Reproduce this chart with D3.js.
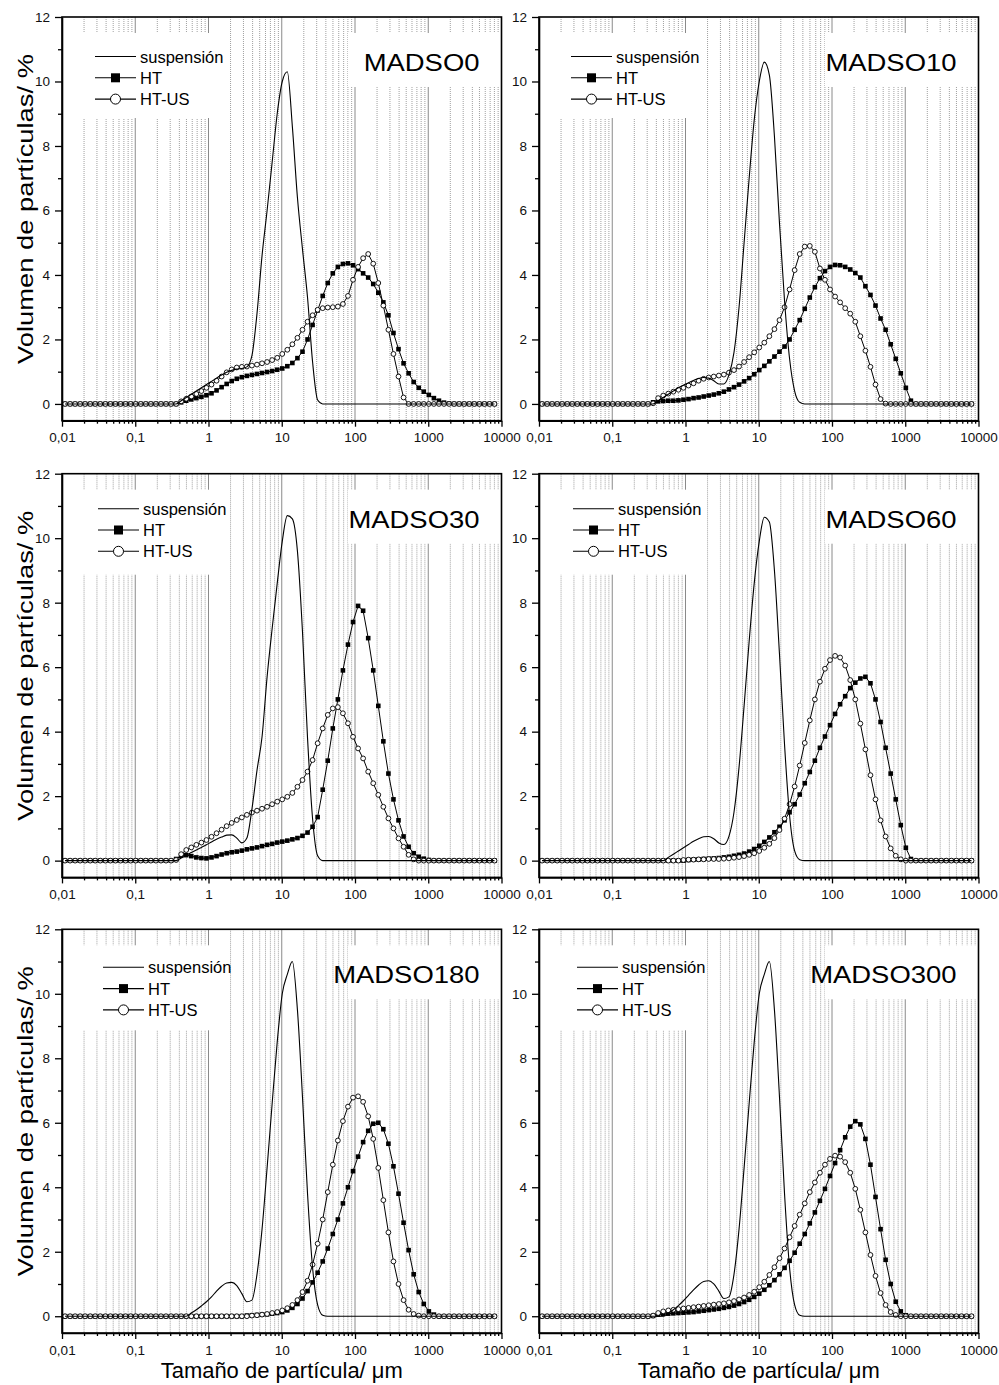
<!DOCTYPE html>
<html>
<head>
<meta charset="utf-8">
<script src="https://cdn.jsdelivr.net/npm/d3@7"></script>
<style>
  body { margin: 0; background: #fff; }
  svg { font-family: "Liberation Sans", Arial, sans-serif; }
</style>
</head>
<body>
<svg id="chart" width="999" height="1385"></svg>
<script>
// size classes of the analyser (µm), shared by every curve
var sizeClasses = [
  0.011, 0.0129, 0.0151, 0.0177, 0.0207, 0.0243, 0.0284, 0.0333, 0.0391, 0.0458,
  0.0537, 0.063, 0.0738, 0.0865, 0.1014, 0.1189, 0.1393, 0.1633, 0.1914, 0.2244,
  0.263, 0.3083, 0.3614, 0.4236, 0.4966, 0.5821, 0.6823, 0.7998, 0.9376, 1.099,
  1.288, 1.51, 1.77, 2.075, 2.432, 2.851, 3.342, 3.917, 4.592, 5.383,
  6.31, 7.396, 8.67, 10.16, 11.91, 13.96, 16.37, 19.19, 22.49, 26.36,
  30.9, 36.22, 42.46, 49.77, 58.34, 68.39, 80.17, 93.97, 110.2, 129.1,
  151.4, 177.4, 208, 243.8, 285.8, 335, 392.6, 460.3, 539.5, 632.4,
  741.3, 869, 1019, 1194, 1400, 1641, 1923, 2254, 2642, 3097,
  3631, 4256, 4989, 5848, 6855, 8035
];

var xTickValues = [0.01, 0.1, 1, 10, 100, 1000, 10000];
var xTickLabels = ["0,01", "0,1", "1", "10", "100", "1000", "10000"];
var yTickValues = [0, 2, 4, 6, 8, 10, 12];
var yMinorTicks = [1, 3, 5, 7, 9, 11];
var sampleNames = ["MADSO0", "MADSO10", "MADSO30", "MADSO60", "MADSO180", "MADSO300"];
var seriesNames = ["suspensión", "HT", "HT-US"];

// MADSO0
var susp0 = [
  0,0,0,0,0,0,0,0,0,0, 0,0,0,0,0,0,0,0,0,0,
  0,0,0,0.1,0.2,0.3,0.4,0.5,0.6,0.7,
  0.8,0.9,0.98,1.04,1.08,1.1,1.15,1.5,2.8,4.6,
  6.0,7.5,9.0,10.0,10.3,8.6,6.4,4.8,3.3,1.3,
  0.12,0,0,0,0,0,0,0,0,0, 0,0,0,0,0,0,0,0,0,0,
  0,0,0,0,0,0,0,0,0,0, 0,0,0,0,0,0
];
var ht0 = [
  0,0,0,0,0,0,0,0,0,0, 0,0,0,0,0,0,0,0,0,0,
  0,0,0,0.05,0.1,0.14,0.18,0.22,0.27,0.33,
  0.42,0.52,0.62,0.71,0.78,0.83,0.87,0.9,0.93,0.96,
  0.99,1.02,1.06,1.1,1.17,1.27,1.42,1.62,2.0,2.45,
  2.9,3.35,3.75,4.05,4.25,4.34,4.36,4.3,4.18,4.05,
  3.92,3.72,3.45,3.15,2.75,2.2,1.7,1.26,0.95,0.68,
  0.5,0.38,0.28,0.18,0.1,0.04,0.01,0,0,0,
  0,0,0,0,0,0
];
var htus0 = [
  0,0,0,0,0,0,0,0,0,0, 0,0,0,0,0,0,0,0,0,0,
  0,0,0,0.08,0.16,0.23,0.31,0.4,0.5,0.6,
  0.72,0.85,0.98,1.07,1.13,1.15,1.16,1.19,1.22,1.26,
  1.3,1.36,1.43,1.55,1.68,1.85,2.05,2.3,2.55,2.75,
  2.92,2.97,2.99,3.0,3.02,3.1,3.35,3.85,4.25,4.52,
  4.65,4.35,3.75,3.05,2.3,1.55,0.85,0.2,0,0,
  0,0,0,0,0,0,0,0,0,0, 0,0,0,0,0,0
];

// MADSO10
var susp10 = [
  0,0,0,0,0,0,0,0,0,0, 0,0,0,0,0,0,0,0,0,0,
  0,0,0,0.1,0.2,0.3,0.4,0.5,0.58,0.66,
  0.73,0.79,0.82,0.8,0.72,0.62,0.62,0.9,1.6,3.0,
  5.0,7.0,8.8,10.0,10.6,10.2,8.3,5.6,3.2,1.4,
  0.4,0.05,0,0,0,0,0,0,0,0, 0,0,0,0,0,0,0,0,0,0,
  0,0,0,0,0,0,0,0,0,0, 0,0,0,0,0,0
];
var ht10 = [
  0,0,0,0,0,0,0,0,0,0, 0,0,0,0,0,0,0,0,0,0,
  0,0,0.05,0.08,0.09,0.1,0.1,0.11,0.13,0.15,
  0.18,0.2,0.23,0.26,0.29,0.33,0.38,0.45,0.52,0.6,
  0.7,0.8,0.92,1.05,1.18,1.32,1.47,1.62,1.78,2.0,
  2.3,2.6,2.95,3.3,3.62,3.9,4.12,4.25,4.31,4.3,
  4.25,4.17,4.06,3.92,3.65,3.38,3.05,2.65,2.3,1.85,
  1.4,0.95,0.5,0.1,0,0,0,0,0,0,
  0,0,0,0,0,0
];
var htus10 = [
  0,0,0,0,0,0,0,0,0,0, 0,0,0,0,0,0,0,0,0,0,
  0,0,0.02,0.18,0.26,0.32,0.38,0.44,0.5,0.57,
  0.64,0.72,0.78,0.82,0.85,0.88,0.91,0.97,1.05,1.16,
  1.3,1.45,1.6,1.75,1.9,2.1,2.32,2.6,3.0,3.55,
  4.15,4.65,4.88,4.9,4.72,4.2,3.85,3.55,3.33,3.15,
  2.97,2.8,2.55,2.1,1.65,1.15,0.6,0.15,0.01,0,
  0,0,0,0,0,0,0,0,0,0, 0,0,0,0,0,0
];

// MADSO30
var susp30 = [
  0,0,0,0,0,0,0,0,0,0, 0,0,0,0,0,0,0,0,0,0,
  0,0,0,0.08,0.17,0.25,0.33,0.41,0.49,0.58,
  0.66,0.73,0.79,0.8,0.7,0.55,0.7,1.6,2.8,3.84,
  5.7,7.2,8.6,9.9,10.7,10.6,9.6,7.1,3.8,1.3,
  0.15,0,0,0,0,0,0,0,0,0, 0,0,0,0,0,0,0,0,0,0,
  0,0,0,0,0,0,0,0,0,0, 0,0,0,0,0,0
];
var ht30 = [
  0,0,0,0,0,0,0,0,0,0, 0,0,0,0,0,0,0,0,0,0,
  0,0,0.05,0.15,0.17,0.14,0.1,0.08,0.07,0.1,
  0.14,0.19,0.23,0.26,0.28,0.31,0.35,0.38,0.41,0.45,
  0.49,0.52,0.56,0.59,0.62,0.66,0.7,0.77,0.87,1.05,
  1.35,2.2,3.1,4.1,5.0,5.9,6.7,7.4,7.9,7.75,
  6.9,5.9,4.8,3.7,2.7,1.9,1.25,0.75,0.43,0.23,
  0.12,0.06,0.02,0,0,0,0,0,0,0,
  0,0,0,0,0,0
];
var htus30 = [
  0,0,0,0,0,0,0,0,0,0, 0,0,0,0,0,0,0,0,0,0,
  0,0,0.02,0.2,0.33,0.41,0.49,0.56,0.64,0.74,
  0.85,0.96,1.07,1.17,1.26,1.34,1.42,1.49,1.55,1.61,
  1.67,1.75,1.83,1.9,1.98,2.1,2.29,2.5,2.76,3.12,
  3.64,4.1,4.52,4.72,4.76,4.57,4.26,3.84,3.48,3.17,
  2.76,2.4,2.04,1.67,1.31,1.0,0.69,0.43,0.18,0.04,
  0,0,0,0,0,0,0,0,0,0, 0,0,0,0,0,0
];

// MADSO60
var susp60 = [
  0,0,0,0,0,0,0,0,0,0, 0,0,0,0,0,0,0,0,0,0,
  0,0,0,0,0,0.1,0.2,0.3,0.4,0.5,
  0.6,0.68,0.74,0.75,0.68,0.55,0.5,0.75,1.5,2.9,
  4.8,6.8,8.6,9.9,10.65,10.5,9.0,6.4,3.6,1.4,
  0.3,0.03,0,0,0,0,0,0,0,0, 0,0,0,0,0,0,0,0,0,0,
  0,0,0,0,0,0,0,0,0,0, 0,0,0,0,0,0
];
var ht60 = [
  0,0,0,0,0,0,0,0,0,0, 0,0,0,0,0,0,0,0,0,0,
  0,0,0,0,0,0,0,0,0,0.02,
  0.03,0.04,0.05,0.06,0.07,0.08,0.1,0.12,0.15,0.18,
  0.22,0.28,0.36,0.46,0.58,0.72,0.88,1.05,1.25,1.5,
  1.75,2.05,2.4,2.75,3.1,3.5,3.85,4.2,4.55,4.85,
  5.1,5.35,5.52,5.65,5.7,5.5,5.0,4.3,3.5,2.7,
  1.9,1.1,0.4,0.05,0,0,0,0,0,0,
  0,0,0,0,0,0
];
var htus60 = [
  0,0,0,0,0,0,0,0,0,0, 0,0,0,0,0,0,0,0,0,0,
  0,0,0,0,0,0,0,0,0.02,0.03,
  0.03,0.04,0.04,0.05,0.05,0.05,0.06,0.07,0.09,0.11,
  0.14,0.18,0.23,0.3,0.4,0.52,0.7,0.95,1.3,1.75,
  2.3,2.95,3.65,4.35,5.0,5.55,5.95,6.22,6.35,6.3,
  6.05,5.6,5.0,4.25,3.45,2.65,1.9,1.25,0.75,0.38,
  0.15,0.04,0,0,0,0,0,0,0,0,
  0,0,0,0,0,0
];

// MADSO180
var susp180 = [
  0,0,0,0,0,0,0,0,0,0, 0,0,0,0,0,0,0,0,0,0,
  0,0,0,0,0,0.1,0.2,0.32,0.45,0.6,
  0.78,0.93,1.03,1.05,0.95,0.7,0.45,0.5,1.3,2.7,
  4.6,6.6,8.5,10.0,10.6,11.0,9.5,6.8,3.8,1.5,
  0.35,0.03,0,0,0,0,0,0,0,0, 0,0,0,0,0,0,0,0,0,0,
  0,0,0,0,0,0,0,0,0,0, 0,0,0,0,0,0
];
var ht180 = [
  0,0,0,0,0,0,0,0,0,0, 0,0,0,0,0,0,0,0,0,0,
  0,0,0,0,0,0,0,0,0,0,
  0,0,0,0,0,0,0.02,0.03,0.04,0.05,
  0.06,0.08,0.1,0.13,0.18,0.26,0.38,0.55,0.78,1.05,
  1.35,1.7,2.1,2.55,3.0,3.5,4.0,4.5,4.95,5.4,
  5.75,5.97,6.0,5.8,5.35,4.65,3.8,2.9,2.05,1.3,
  0.75,0.38,0.15,0.05,0,0,0,0,0,0,
  0,0,0,0,0,0
];
var htus180 = [
  0,0,0,0,0,0,0,0,0,0, 0,0,0,0,0,0,0,0,0,0,
  0,0,0,0,0,0,0,0,0,0,
  0,0,0,0,0,0,0,0.02,0.03,0.05,
  0.07,0.1,0.13,0.18,0.25,0.35,0.5,0.75,1.1,1.6,
  2.25,3.0,3.85,4.7,5.45,6.05,6.5,6.78,6.82,6.65,
  6.2,5.5,4.6,3.6,2.6,1.7,1.0,0.5,0.2,0.07,
  0.02,0,0,0,0,0,0,0,0,0,
  0,0,0,0,0,0
];

// MADSO300
var susp300 = [
  0,0,0,0,0,0,0,0,0,0, 0,0,0,0,0,0,0,0,0,0,
  0,0,0,0,0,0.1,0.2,0.33,0.48,0.65,
  0.82,0.97,1.08,1.1,1.0,0.78,0.55,0.6,1.3,2.7,
  4.6,6.6,8.5,10.0,10.6,11.0,9.5,6.8,3.8,1.5,
  0.35,0.03,0,0,0,0,0,0,0,0, 0,0,0,0,0,0,0,0,0,0,
  0,0,0,0,0,0,0,0,0,0, 0,0,0,0,0,0
];
var ht300 = [
  0,0,0,0,0,0,0,0,0,0, 0,0,0,0,0,0,0,0,0,0,
  0,0,0.01,0.05,0.07,0.08,0.09,0.1,0.11,0.12,
  0.13,0.15,0.17,0.19,0.21,0.23,0.26,0.29,0.33,0.38,
  0.44,0.51,0.6,0.7,0.82,0.96,1.12,1.3,1.5,1.72,
  1.97,2.25,2.55,2.88,3.22,3.58,3.95,4.35,4.75,5.15,
  5.55,5.88,6.05,5.95,5.5,4.7,3.7,2.7,1.75,1.0,
  0.45,0.15,0.03,0,0,0,0,0,0,0,
  0,0,0,0,0,0
];
var htus300 = [
  0,0,0,0,0,0,0,0,0,0, 0,0,0,0,0,0,0,0,0,0,
  0,0,0.02,0.1,0.15,0.18,0.2,0.22,0.24,0.26,
  0.28,0.3,0.32,0.34,0.36,0.38,0.4,0.43,0.47,0.52,
  0.58,0.66,0.76,0.9,1.07,1.28,1.52,1.8,2.1,2.45,
  2.8,3.15,3.5,3.85,4.15,4.45,4.7,4.88,4.98,4.95,
  4.78,4.45,3.95,3.3,2.6,1.9,1.25,0.72,0.35,0.13,
  0.04,0,0,0,0,0,0,0,0,0,
  0,0,0,0,0,0
];

var suspensionSeries = [susp0, susp10, susp30, susp60, susp180, susp300];
var htSeries = [ht0, ht10, ht30, ht60, ht180, ht300];
var htusSeries = [htus0, htus10, htus30, htus60, htus180, htus300];

// panel placement
var colLeft = [62, 539];
var rowTop = [17, 473.7, 929.3];
var plotW = 439.5, plotH = 403.7;
var legendDx = [33, 32, 36, 34, 41, 38];
var legendDy = [39.5, 39.5, 35, 35, 38, 38];

var svg = d3.select("#chart");
svg.append("rect").attr("width", 999).attr("height", 1385).attr("fill", "#fff");

var x = d3.scaleLog().domain([0.01, 10000]).range([0, plotW]);
var y = d3.scaleLinear().domain([-0.52, 12]).range([plotH, 0]);

function isMajor(t) {
  var l = Math.log10(t);
  return Math.abs(l - Math.round(l)) < 1e-9;
}
var minorX = x.ticks().filter(function (t) { return !isMajor(t); });

sampleNames.forEach(function (name, i) {
  var col = i % 2, row = Math.floor(i / 2);
  var g = svg.append("g")
    .attr("transform", "translate(" + colLeft[col] + "," + rowTop[row] + ")");

  // vertical grid
  g.append("g").selectAll("line")
    .data(minorX)
    .join("line")
    .attr("x1", function (d) { return x(d); })
    .attr("x2", function (d) { return x(d); })
    .attr("y1", 0).attr("y2", plotH)
    .attr("stroke", "#a0a0a0")
    .attr("stroke-dasharray", "1,1");
  g.append("g").selectAll("line")
    .data(xTickValues.slice(1, -1))
    .join("line")
    .attr("x1", function (d) { return x(d); })
    .attr("x2", function (d) { return x(d); })
    .attr("y1", 0).attr("y2", plotH)
    .attr("stroke", "#8a8a8a");

  // white boxes behind legend and sample name
  g.append("rect").attr("x", 18).attr("y", 16).attr("width", 148).attr("height", 85).attr("fill", "#fff");
  g.append("rect").attr("x", 286).attr("y", 16).attr("width", plotW - 287).attr("height", 54).attr("fill", "#fff");

  var pts = function (arr) {
    return arr.map(function (v, k) { return [sizeClasses[k], v]; });
  };
  var line = d3.line()
    .x(function (d) { return x(d[0]); })
    .y(function (d) { return y(d[1]); });

  // HT
  var htPts = pts(htSeries[i]);
  g.append("path").datum(htPts)
    .attr("d", line).attr("fill", "none").attr("stroke", "#000").attr("stroke-width", 1);
  g.append("g").selectAll("rect")
    .data(htPts)
    .join("rect")
    .attr("x", function (d) { return x(d[0]) - 2.3; })
    .attr("y", function (d) { return y(d[1]) - 2.3; })
    .attr("width", 4.6).attr("height", 4.6)
    .attr("fill", "#000");

  // HT-US
  var usPts = pts(htusSeries[i]);
  g.append("path").datum(usPts)
    .attr("d", line).attr("fill", "none").attr("stroke", "#000").attr("stroke-width", 1);
  g.append("g").selectAll("circle")
    .data(usPts)
    .join("circle")
    .attr("cx", function (d) { return x(d[0]); })
    .attr("cy", function (d) { return y(d[1]); })
    .attr("r", 2.4)
    .attr("fill", "#fff").attr("stroke", "#000").attr("stroke-width", 0.9);

  // suspension
  g.append("path").datum(pts(suspensionSeries[i]))
    .attr("d", line.curve(d3.curveMonotoneX))
    .attr("fill", "none").attr("stroke", "#000").attr("stroke-width", 1.1);
  line.curve(d3.curveLinear);

  // axes
  var styleAxis = function (sel) {
    sel.select(".domain").attr("stroke-width", 1.6);
    sel.selectAll(".tick line").attr("stroke-width", 1.3);
    sel.selectAll("text").attr("font-size", 13.5).attr("font-family", "Liberation Sans, Arial, sans-serif").attr("fill", "#111");
  };
  g.append("g").attr("transform", "translate(0," + plotH + ")")
    .call(d3.axisBottom(x).tickValues(minorX).tickSize(3).tickSizeOuter(0).tickFormat(""))
    .call(function (s) { s.select(".domain").remove(); s.selectAll(".tick line").attr("stroke-width", 1.3); });
  g.append("g").attr("transform", "translate(0," + plotH + ")")
    .call(d3.axisBottom(x).tickValues(xTickValues).tickSize(6).tickSizeOuter(0).tickPadding(6)
      .tickFormat(function (d, k) { return xTickLabels[k]; }))
    .call(styleAxis);
  g.append("g")
    .call(d3.axisLeft(y).tickValues(yMinorTicks).tickSize(4).tickSizeOuter(0).tickFormat(""))
    .call(function (s) { s.select(".domain").remove(); s.selectAll(".tick line").attr("stroke-width", 1.3); });
  g.append("g")
    .call(d3.axisLeft(y).tickValues(yTickValues).tickSize(7).tickSizeOuter(0).tickPadding(5))
    .call(styleAxis);

  // frame
  g.append("rect").attr("width", plotW).attr("height", plotH)
    .attr("fill", "none").attr("stroke", "#000").attr("stroke-width", 1.6);

  // legend
  var lx = legendDx[i], ly = legendDy[i];
  seriesNames.forEach(function (s, k) {
    var yy = ly + k * 21.3;
    g.append("line").attr("x1", lx).attr("x2", lx + 41).attr("y1", yy).attr("y2", yy)
      .attr("stroke", "#000").attr("stroke-width", 1.1);
    if (k === 1) {
      g.append("rect").attr("x", lx + 16).attr("y", yy - 4.5).attr("width", 9).attr("height", 9).attr("fill", "#000");
    } else if (k === 2) {
      g.append("circle").attr("cx", lx + 20.5).attr("cy", yy).attr("r", 5)
        .attr("fill", "#fff").attr("stroke", "#000").attr("stroke-width", 1);
    }
    g.append("text").attr("x", lx + 45).attr("y", yy + 6)
      .attr("font-size", 16.5).attr("fill", "#000").text(s);
  });

  // sample name
  g.append("text")
    .attr("transform", "translate(" + (plotW - 22) + ",54) scale(1.12,1)")
    .attr("text-anchor", "end").attr("font-size", 24.5).attr("fill", "#000")
    .text(name);

  if (col === 0) {
    svg.append("text")
      .attr("transform", "translate(33," + (rowTop[row] + 192) + ") rotate(-90)")
      .attr("text-anchor", "middle").attr("font-size", 21.5)
      .attr("textLength", 310).attr("lengthAdjust", "spacingAndGlyphs")
      .text("Volumen de partículas/ %");
  }
  if (row === 2) {
    svg.append("text")
      .attr("x", colLeft[col] + plotW / 2).attr("y", 1378)
      .attr("text-anchor", "middle").attr("font-size", 22)
      .attr("textLength", 242).attr("lengthAdjust", "spacingAndGlyphs")
      .text("Tamaño de partícula/ μm");
  }
});
</script>
</body>
</html>
